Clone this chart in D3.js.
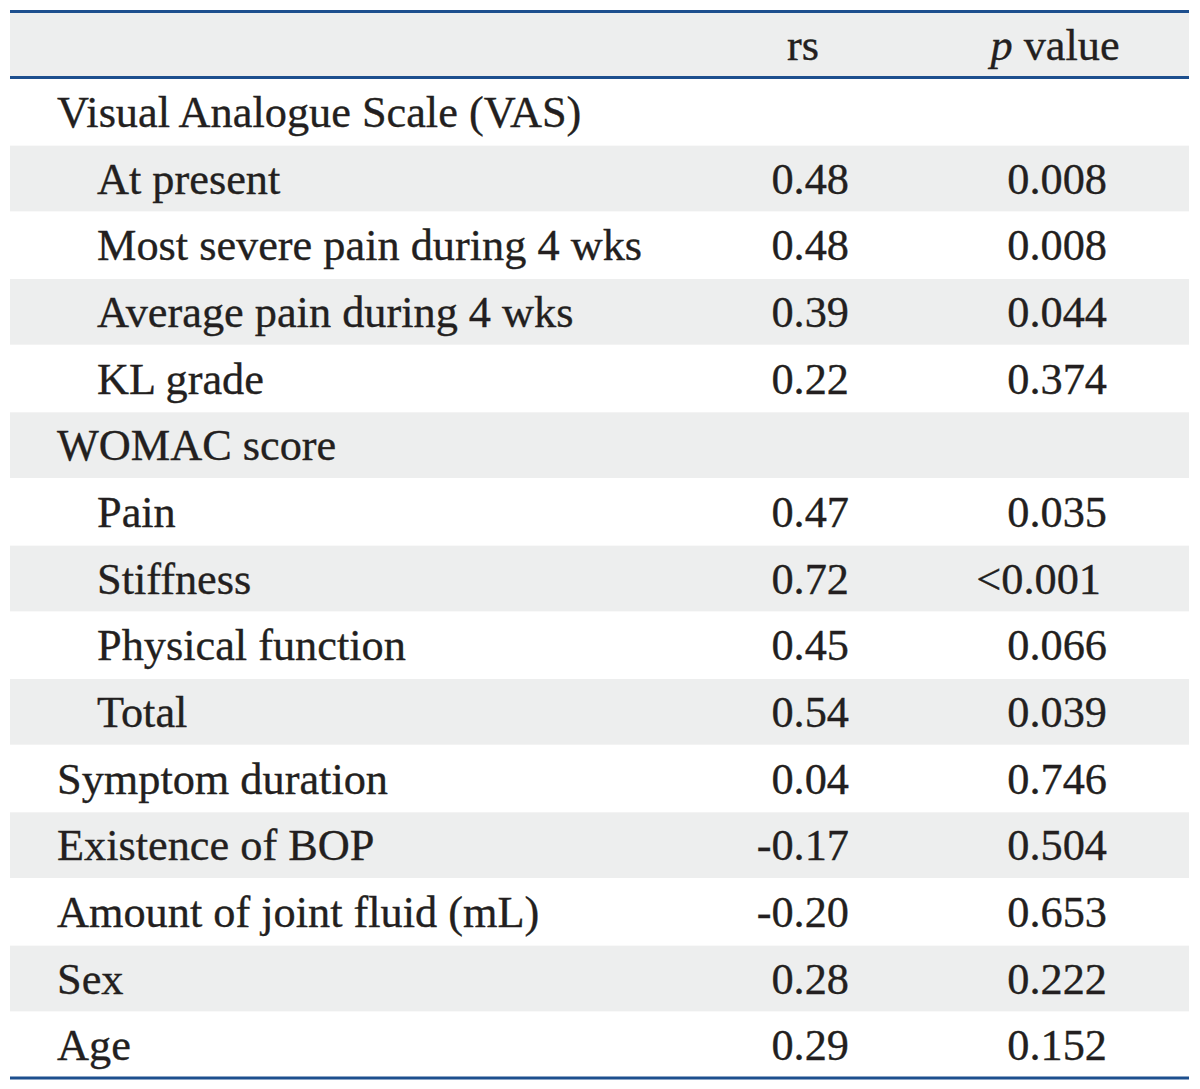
<!DOCTYPE html>
<html><head><meta charset="utf-8">
<script src="https://cdn.jsdelivr.net/npm/d3@7"></script>
<style>body{margin:0;background:#fff}svg{display:block}</style>
</head><body>
<script>
const labels = ["Visual Analogue Scale (VAS)","At present","Most severe pain during 4 wks","Average pain during 4 wks","KL grade","WOMAC score","Pain","Stiffness","Physical function","Total","Symptom duration","Existence of BOP","Amount of joint fluid (mL)","Sex","Age"];
const indent = [0,1,1,1,1,0,1,1,1,1,0,0,0,0,0];
const rsValues = ["","0.48","0.48","0.39","0.22","","0.47","0.72","0.45","0.54","0.04","-0.17","-0.20","0.28","0.29"];
const pValues = ["","0.008","0.008","0.044","0.374","","0.035","<0.001","0.066","0.039","0.746","0.504","0.653","0.222","0.152"];
const shaded = [false,true,false,true,false,true,false,true,false,true,false,true,false,true,false];

const W = 1200, H = 1089;
const xLeft = 10, xRight = 1189, yTop = 12, headerBottom = 78, yBottom = 1078;
const font = "'Liberation Serif','Times New Roman',serif";
const fs = 44.3;
const ink = "#231f20", lineColor = "#1d4f8e", band = "#edeeee";

const svg = d3.select("body").append("svg").attr("width", W).attr("height", H);

const y = d3.scaleBand().domain(d3.range(labels.length)).range([headerBottom, yBottom]);

svg.append("rect").attr("x", xLeft).attr("y", yTop).attr("width", xRight-xLeft).attr("height", headerBottom-yTop).attr("fill", band);

svg.selectAll("rect.row").data(d3.range(labels.length).filter(i=>shaded[i])).join("rect")
  .attr("class","row").attr("x", xLeft).attr("y", i=>y(i)+1).attr("width", xRight-xLeft).attr("height", y.bandwidth()-1).attr("fill", band);

[yTop-0.5, headerBottom-0.5, yBottom].forEach(yy=>{
  svg.append("line").attr("x1", xLeft).attr("x2", xRight).attr("y1", yy).attr("y2", yy)
    .attr("stroke", lineColor).attr("stroke-width", 3);
});

const hb = 60;
const hdr = svg.append("g").attr("font-family",font).attr("font-size",fs).attr("fill",ink).attr("stroke",ink).attr("stroke-width",0.35);
hdr.append("text").attr("x", 803).attr("y", hb).attr("text-anchor","middle").text("rs");
const pv = hdr.append("text").attr("x", 1055).attr("y", hb).attr("text-anchor","middle");
pv.append("tspan").attr("font-style","italic").text("p");
pv.append("tspan").text(" value");

const g = svg.append("g").attr("font-family",font).attr("font-size",fs).attr("fill",ink).attr("stroke",ink).attr("stroke-width",0.35);
const base = i => y(i) + y.bandwidth()/2 + 15.5;
g.selectAll("text.lab").data(d3.range(labels.length)).join("text").attr("class","lab")
  .attr("x", i=> indent[i] ? 97 : 57).attr("y", base).text(i=>labels[i]);
g.selectAll("text.rs").data(d3.range(labels.length)).join("text").attr("class","rs")
  .attr("x", 849).attr("y", base).attr("text-anchor","end").text(i=>rsValues[i]);
g.selectAll("text.pv").data(d3.range(labels.length)).join("text").attr("class","pv")
  .attr("x", i=> pValues[i].startsWith("<") ? 1101 : 1107).attr("y", base).attr("text-anchor","end").text(i=>pValues[i]);
</script>
</body></html>
